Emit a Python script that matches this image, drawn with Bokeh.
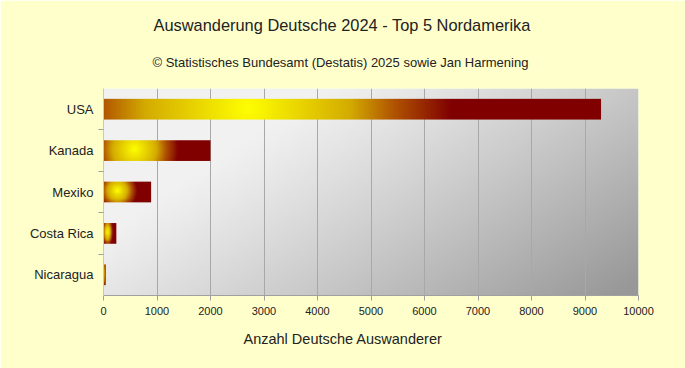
import numpy as np
from bokeh.plotting import figure
from bokeh.models import FixedTicker, Title, Range1d
from bokeh.embed import file_html
from bokeh.resources import INLINE

# ---- data ----
countries = ["USA", "Kanada", "Mexiko", "Costa Rica", "Nicaragua"]
values = [9300, 2000, 890, 240, 40]
x_ticks = [0, 1000, 2000, 3000, 4000, 5000, 6000, 7000, 8000, 9000, 10000]
title_text = "Auswanderung Deutsche 2024 - Top 5 Nordamerika"
subtitle_text = "© Statistisches Bundesamt (Destatis) 2025 sowie Jan Harmening"
x_title = "Anzahl Deutsche Auswanderer"

BG = "#FFFFCC"
FONT = "Liberation Sans"
W, H = 685, 368
ML, MR, MT, MB = 103, 47, 88, 73
XMAX = 10000
BAR_H = 0.5

n = len(countries)
ypos = [n - 1 - i for i in range(n)]

p = figure(width=W, height=H, output_backend="svg", toolbar_location=None,
           x_range=Range1d(0, XMAX), y_range=Range1d(-0.5, n - 0.5),
           min_border_left=ML, min_border_right=MR, min_border_top=MT, min_border_bottom=MB,
           background_fill_color=BG, border_fill_color=BG, outline_line_color=None)

frame_w = W - ML - MR
frame_h = H - MT - MB

# ---- plot-area background gradient ----
gh, gw = 80, 160
gy, gx = np.mgrid[0:gh, 0:gw]
u = (gx + 0.5) / gw
v = 1 - (gy + 0.5) / gh  # 0 at top (row 0 is bottom)
t = np.clip((u * 0.75 + v * 0.45 - 0.32) / 0.85, 0, 1)
c0 = np.array([241, 241, 241]); c1 = np.array([152, 152, 152])
col = c0[None, None, :] + (c1 - c0)[None, None, :] * (t[..., None] ** 1.1)
bg = np.zeros((gh, gw, 4), dtype=np.uint8)
bg[..., :3] = col.astype(np.uint8)
bg[..., 3] = 255
p.image_rgba(image=[bg.view(np.uint32).reshape(gh, gw)], x=0, y=-0.5, dw=XMAX, dh=n,
             level="image")

# ---- bars with radial gradient ----
stops = [(0.0, (255, 255, 0)), (0.5, (212, 172, 0)), (0.72, (176, 82, 0)), (1.0, (128, 0, 0))]

def grad_color(d):
    d = np.clip(d, 0, 1)
    out = np.zeros(d.shape + (3,))
    for (a, ca), (b, cb) in zip(stops[:-1], stops[1:]):
        m = (d >= a) & (d <= b)
        f = ((d - a) / (b - a))[..., None]
        out[m] = (np.array(ca) + (np.array(cb) - np.array(ca)) * f)[m]
    return out

px_per_unit = frame_w / XMAX
bar_px_h = BAR_H * frame_h / n
imgs, xs, ys, dws = [], [], [], []
for val, yy in zip(values, ypos):
    L = max(val * px_per_unit, 1.0)
    iw, ih = 300, 24
    jj, ii = np.mgrid[0:ih, 0:iw]
    uu = (ii + 0.5) / iw
    vv = (jj + 0.5) / ih - 0.5
    dx = (uu - 0.29) * L
    dy = (vv - 0.05) * bar_px_h
    R = 0.41 * L
    Ry = max(R, 14.0)
    d = np.sqrt((dx / R) ** 2 + (dy / Ry) ** 2)
    c = grad_color(d)
    arr = np.zeros((ih, iw, 4), dtype=np.uint8)
    arr[..., :3] = c.astype(np.uint8)
    arr[..., 3] = 255
    imgs.append(arr.view(np.uint32).reshape(ih, iw))
    xs.append(0); ys.append(yy - BAR_H / 2); dws.append(val)

p.image_rgba(image=imgs, x=xs, y=ys, dw=dws, dh=BAR_H)

# ---- axes ----
p.xaxis.ticker = FixedTicker(ticks=x_ticks)
p.xaxis.major_label_text_font = FONT
p.xaxis.major_label_text_font_size = "11px"
p.xaxis.major_label_text_color = "#222222"
p.xaxis.axis_line_color = "#A0A0A0"
p.xaxis.major_tick_line_color = "#A0A0A0"
p.xaxis.major_tick_out = 5
p.xaxis.major_tick_in = 0
p.xaxis.minor_tick_line_color = None
p.xaxis.major_label_standoff = 6
# invisible axis label used only as a small gap before the axis title
p.xaxis.axis_label = " "
p.xaxis.axis_label_text_font_size = "1px"
p.xaxis.axis_label_standoff = 2

p.yaxis.ticker = FixedTicker(ticks=ypos, minor_ticks=[i + 0.5 for i in range(n - 1)])
p.yaxis.major_label_overrides = {yy: c for yy, c in zip(ypos, countries)}
p.yaxis.major_label_text_font = FONT
p.yaxis.major_label_text_font_size = "13px"
p.yaxis.major_label_text_color = "#222222"
p.yaxis.axis_line_color = "#C8C8C8"
p.yaxis.major_tick_line_color = None
p.yaxis.minor_tick_line_color = "#A0A0A0"
p.yaxis.minor_tick_out = 5
p.yaxis.minor_tick_in = 0
p.yaxis.major_label_standoff = 4

p.xgrid.grid_line_color = "#A8A8A8"
p.ygrid.grid_line_color = None

# ---- titles ----
def mk_title(text, size, off):
    return Title(text=text, align="left", offset=off, text_font=FONT,
                 text_font_size=size, text_font_style="normal", text_color="#222222")

def spacer(size, standoff=None):
    s = Title(text=" ", text_font=FONT, text_font_size=size, text_color=BG)
    if standoff is not None and hasattr(Title, "standoff"):
        s.standoff = standoff
    return s

p.title = mk_title(title_text, "16.4px", 153 - ML)
# first item added to "above" sits nearest the plot frame
p.add_layout(spacer("0.5px", 11), "above")
p.add_layout(mk_title(subtitle_text, "13px", 152 - ML), "above")
p.add_layout(spacer("1.5px", 5), "above")
p.add_layout(mk_title(x_title, "14.5px", 243 - ML), "below")

html = file_html(p, INLINE)
html = html.replace("<body>", '<body style="background-color:#FFFFCC;">', 1)
open("out.html", "w").write(html)
